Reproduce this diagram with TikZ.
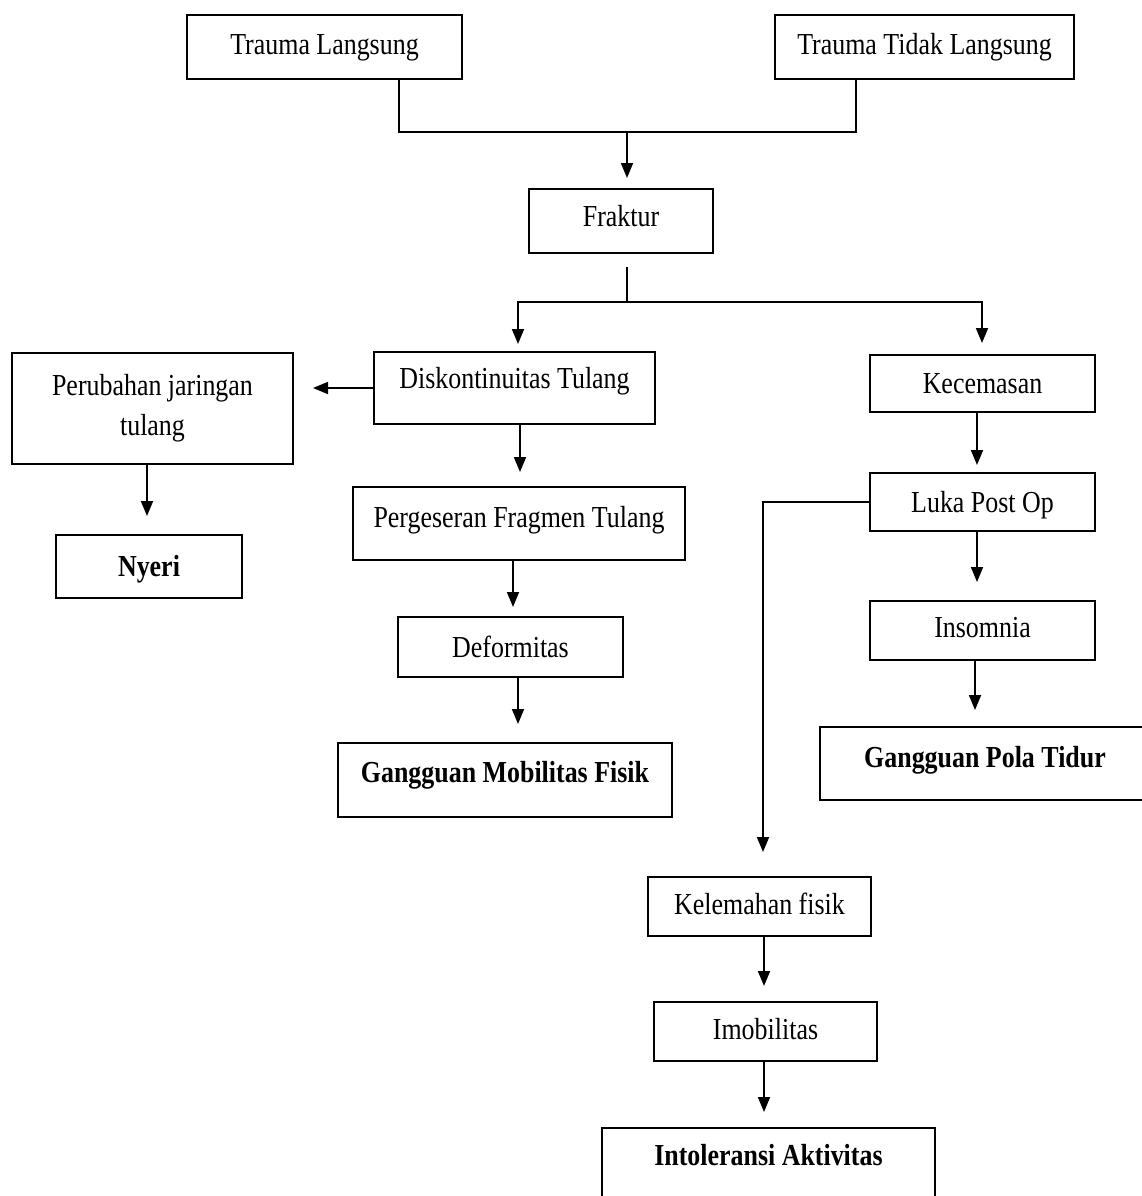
\documentclass[tikz,border=0pt]{standalone}
\usepackage{fontspec}
\setmainfont[FakeStretch=0.85]{Liberation Serif}
\usetikzlibrary{arrows.meta}
\tikzset{
  box/.style={draw, line width=2.4pt, inner sep=0pt, outer sep=0pt, align=center,
    font=\fontsize{30.5}{40}\selectfont},
  td/.style={text height=21.35pt, text depth=#1pt},
  conn/.style={line width=1.8pt},
  arr/.style={conn, -{Triangle[length=15pt,width=12pt]}},
}
\begin{document}
\begin{tikzpicture}[x=1pt,y=-1pt]
\useasboundingbox (0,0) rectangle (1142,1196);
% boxes
\node[box, td=7.15, minimum width=275pt, minimum height=64pt] (TL) at (324.5,47) {Trauma Langsung};
\node[box, td=7.15, minimum width=299pt, minimum height=64pt] (TTL) at (924.5,47) {Trauma Tidak Langsung};
\node[box, td=11.15, minimum width=184pt, minimum height=64pt] (Fr) at (621,221) {Fraktur};
\node[box, td=20.15, minimum width=281pt, minimum height=72pt] (Dk) at (514.5,388) {Diskontinuitas Tulang};
\node[box, minimum width=281pt, minimum height=111pt] (Pb) at (152.5,408.5) {Perubahan jaringan\\tulang};
\node[box, td=1.15, minimum width=225pt, minimum height=57pt] (Kc) at (982.5,383.5) {Kecemasan};
\node[box, td=14.15, minimum width=332pt, minimum height=73pt] (Pg) at (519,523.5) {Pergeseran Fragmen Tulang};
\node[box, td=1.15, minimum width=225pt, minimum height=58pt] (Lk) at (982.5,502) {Luka Post Op};
\node[box, td=2.15, minimum width=186pt, minimum height=63pt, font=\fontsize{30.5}{40}\selectfont\bfseries] (Ny) at (149,566.5) {Nyeri};
\node[box, td=1.15, minimum width=225pt, minimum height=60pt] (Df) at (510.5,647) {Deformitas};
\node[box, td=7.15, minimum width=225pt, minimum height=59pt] (In) at (982.5,630.5) {Insomnia};
\node[box, td=17.15, minimum width=334pt, minimum height=74pt, font=\fontsize{30.5}{40}\selectfont\bfseries] (GMF) at (505,780) {Gangguan Mobilitas Fisik};
\node[box, td=14.15, minimum width=330pt, minimum height=73pt, font=\fontsize{30.5}{40}\selectfont\bfseries] (GPT) at (985,763.5) {Gangguan Pola Tidur};
\node[box, td=5.15, minimum width=223pt, minimum height=59pt] (Kl) at (759.5,906.5) {Kelemahan fisik};
\node[box, td=5.15, minimum width=223pt, minimum height=59pt] (Im) at (765.5,1031.5) {Imobilitas};
\node[box, td=29.15, minimum width=333pt, minimum height=82pt, font=\fontsize{30.5}{40}\selectfont\bfseries] (It) at (768.5,1169) {Intoleransi Aktivitas};
% helper coordinates
\coordinate (j1) at (627,132);
\coordinate (tlx) at (399,132);
\coordinate (ttlx) at (856,132);
\coordinate (j2) at (627,302);
\coordinate (jL) at (518,302);
\coordinate (jR) at (982,302);
\coordinate (ax1) at (147,0);
\coordinate (ax2) at (520,0);
\coordinate (ax3) at (513,0);
\coordinate (ax4) at (518,0);
\coordinate (ax5) at (977,0);
\coordinate (ax6) at (975,0);
\coordinate (ax7) at (763,0);
\coordinate (ax8) at (764,0);
% connectors
\draw[conn] (TL.south -| tlx) -- (tlx) -- (ttlx) -- (TTL.south -| ttlx);
\draw[arr, shorten >=11pt] (j1) -- (Fr.north -| j1);
\draw[conn, shorten <=14pt] (Fr.south -| j2) -- (j2);
\draw[arr, shorten >=8pt] (j2) -- (jL) -- (Dk.north -| jL);
\draw[arr, shorten >=12pt] (j2) -- (jR) -- (Kc.north -| jR);
\draw[arr, shorten >=20pt] (Dk.west) -- (Dk.west -| Pb.east);
\draw[arr, shorten >=19pt] (Pb.south -| ax1) -- (Ny.north -| ax1);
\draw[arr, shorten >=15pt] (Dk.south -| ax2) -- (Pg.north -| ax2);
\draw[arr, shorten >=10pt] (Pg.south -| ax3) -- (Df.north -| ax3);
\draw[arr, shorten >=19pt] (Df.south -| ax4) -- (GMF.north -| ax4);
\draw[arr, shorten >=8pt] (Kc.south -| ax5) -- (Lk.north -| ax5);
\draw[arr, shorten >=19pt] (Lk.south -| ax5) -- (In.north -| ax5);
\draw[arr, shorten >=17pt] (In.south -| ax6) -- (GPT.north -| ax6);
\draw[arr, shorten >=25pt] (Lk.west) -| (Kl.north -| ax7);
\draw[arr, shorten >=16pt] (Kl.south -| ax8) -- (Im.north -| ax8);
\draw[arr, shorten >=16pt] (Im.south -| ax8) -- (It.north -| ax8);
\end{tikzpicture}
\end{document}
